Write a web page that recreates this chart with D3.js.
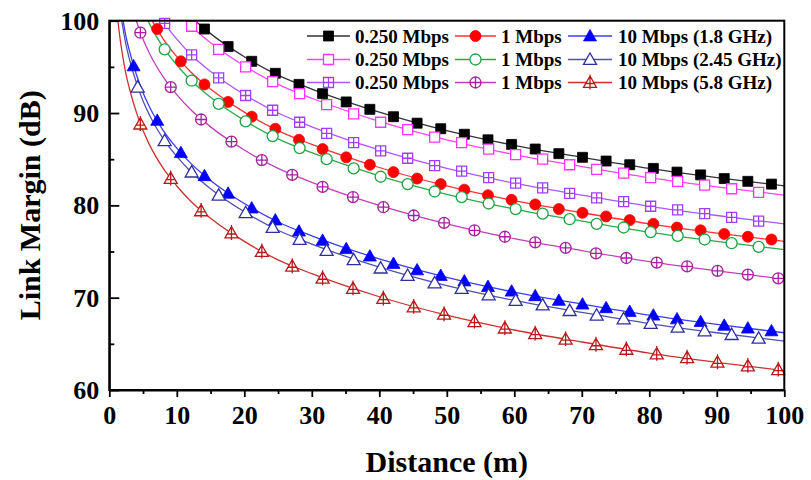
<!DOCTYPE html>
<html>
<head>
<meta charset="utf-8">
<script src="https://cdn.jsdelivr.net/npm/d3@7"></script>
<style>
  html, body { margin: 0; padding: 0; background: #fff; }
  svg { display: block; }
  text { font-family: "Liberation Serif", "Times New Roman", serif; font-weight: bold; fill: #000; }
</style>
</head>
<body>
<svg id="chart" width="811" height="480"></svg>
<script>
// ---------- Data ----------
const xTicks = [0, 10, 20, 30, 40, 50, 60, 70, 80, 90, 100];
const yTicks = [60, 70, 80, 90, 100];

// distances used for the smooth curves (m)
const lineDist = [1, 1.25, 1.5, 2, 2.5, 3, 4, 5, 6, 8, 10, 12, 15, 20, 25, 30, 40, 50, 60, 70, 80, 90, 100];

// marker distances (three marker spacings in the original plot)
const markDistA = [3.6, 7.1, 10.6, 14.1, 17.6, 21.1, 24.6, 28.1, 31.6, 35.1, 38.6, 42.1, 45.6, 49.1, 52.6, 56.1, 59.6, 63.1, 66.6, 70.1, 73.6, 77.1, 80.6, 84.1, 87.6, 91.1, 94.6, 98.1];
const markDistB = [4.2, 8.2, 12.2, 16.2, 20.2, 24.2, 28.2, 32.2, 36.2, 40.2, 44.2, 48.2, 52.2, 56.2, 60.2, 64.2, 68.2, 72.2, 76.2, 80.2, 84.2, 88.2, 92.2, 96.2];
const markDistC = [4.6, 9.1, 13.6, 18.1, 22.6, 27.1, 31.6, 36.1, 40.6, 45.1, 49.6, 54.1, 58.6, 63.1, 67.6, 72.1, 76.6, 81.1, 85.6, 90.1, 94.6, 99.1];

const seriesLabels = ["0.250 Mbps", "0.250 Mbps", "0.250 Mbps", "1 Mbps", "1 Mbps", "1 Mbps", "10 Mbps (1.8 GHz)", "10 Mbps (2.45 GHz)", "10 Mbps (5.8 GHz)"];

// curve values (dB) at lineDist
const lineBlack  = [122.1, 120.2, 118.6, 116.1, 114.1, 112.6, 110.1, 108.1, 106.5, 104.0, 102.1, 100.5, 98.6, 96.1, 94.1, 92.6, 90.1, 88.1, 86.5, 85.2, 84.0, 83.0, 82.1];
const linePink   = [121.1, 119.2, 117.6, 115.1, 113.1, 111.6, 109.1, 107.1, 105.5, 103.0, 101.1, 99.5, 97.6, 95.1, 93.1, 91.6, 89.1, 87.1, 85.5, 84.2, 83.0, 82.0, 81.1];
const lineViolet = [118.0, 116.1, 114.5, 112.0, 110.0, 108.5, 106.0, 104.0, 102.4, 99.9, 98.0, 96.4, 94.5, 92.0, 90.0, 88.5, 86.0, 84.0, 82.4, 81.1, 79.9, 78.9, 78.0];
const lineRed    = [116.1, 114.2, 112.6, 110.1, 108.1, 106.6, 104.1, 102.1, 100.5, 98.0, 96.1, 94.5, 92.6, 90.1, 88.1, 86.6, 84.1, 82.1, 80.5, 79.2, 78.0, 77.0, 76.1];
const lineGreen  = [115.2, 113.3, 111.7, 109.2, 107.2, 105.7, 103.2, 101.2, 99.6, 97.1, 95.2, 93.6, 91.7, 89.2, 87.2, 85.7, 83.2, 81.2, 79.6, 78.3, 77.1, 76.1, 75.2];
const linePurple = [112.0, 110.1, 108.5, 106.0, 104.0, 102.5, 100.0, 98.0, 96.4, 93.9, 92.0, 90.4, 88.5, 86.0, 84.0, 82.5, 80.0, 78.0, 76.4, 75.1, 73.9, 72.9, 72.0];
const lineBlue   = [106.2, 104.3, 102.7, 100.2, 98.2, 96.7, 94.2, 92.2, 90.6, 88.1, 86.2, 84.6, 82.7, 80.2, 78.2, 76.7, 74.2, 72.2, 70.6, 69.3, 68.1, 67.1, 66.2];
const lineNavy   = [105.3, 103.4, 101.8, 99.3, 97.3, 95.8, 93.3, 91.3, 89.7, 87.2, 85.3, 83.7, 81.8, 79.3, 77.3, 75.8, 73.3, 71.3, 69.7, 68.4, 67.2, 66.2, 65.3];
const lineWine   = [102.1, 100.2, 98.6, 96.1, 94.1, 92.6, 90.1, 88.1, 86.5, 84.0, 82.1, 80.5, 78.6, 76.1, 74.1, 72.6, 70.1, 68.1, 66.5, 65.2, 64.0, 63.0, 62.1];

// marker values (dB); markers above 100 dB are off the chart and omitted
const markBlack  = [null, null, null, 99.1, 97.2, 95.6, 94.3, 93.1, 92.1, 91.2, 90.4, 89.6, 88.9, 88.3, 87.7, 87.1, 86.6, 86.1, 85.6, 85.2, 84.8, 84.4, 84.0, 83.6, 83.3, 82.9, 82.6, 82.3];
const markRed    = [null, 99.1, 95.6, 93.1, 91.2, 89.6, 88.3, 87.1, 86.1, 85.2, 84.4, 83.6, 82.9, 82.3, 81.7, 81.1, 80.6, 80.1, 79.6, 79.2, 78.8, 78.4, 78.0, 77.6, 77.3, 76.9, 76.6, 76.3];
const markBlue   = [95.1, 89.2, 85.7, 83.2, 81.3, 79.7, 78.4, 77.2, 76.2, 75.3, 74.5, 73.7, 73.0, 72.4, 71.8, 71.2, 70.7, 70.2, 69.7, 69.3, 68.9, 68.5, 68.1, 67.7, 67.4, 67.0, 66.7, 66.4];
const markPink   = [null, null, 99.4, 96.9, 95.0, 93.4, 92.1, 90.9, 89.9, 89.0, 88.2, 87.4, 86.8, 86.1, 85.5, 85.0, 84.4, 83.9, 83.5, 83.0, 82.6, 82.2, 81.8, 81.4];
const markViolet = [null, 99.7, 96.3, 93.8, 91.9, 90.3, 89.0, 87.8, 86.8, 85.9, 85.1, 84.3, 83.7, 83.0, 82.4, 81.9, 81.3, 80.8, 80.4, 79.9, 79.5, 79.1, 78.7, 78.3];
const markGreen  = [null, 96.9, 93.5, 91.0, 89.1, 87.5, 86.2, 85.0, 84.0, 83.1, 82.3, 81.5, 80.9, 80.2, 79.6, 79.1, 78.5, 78.0, 77.6, 77.1, 76.7, 76.3, 75.9, 75.5];
const markNavy   = [92.8, 87.0, 83.6, 81.1, 79.2, 77.6, 76.3, 75.1, 74.1, 73.2, 72.4, 71.6, 71.0, 70.3, 69.7, 69.2, 68.6, 68.1, 67.7, 67.2, 66.8, 66.4, 66.0, 65.6];
const markPurple = [98.7, 92.8, 89.3, 86.9, 84.9, 83.3, 82.0, 80.9, 79.8, 78.9, 78.1, 77.3, 76.6, 76.0, 75.4, 74.8, 74.3, 73.8, 73.4, 72.9, 72.5, 72.1];
const markWine   = [88.8, 82.9, 79.4, 77.0, 75.0, 73.4, 72.1, 71.0, 69.9, 69.0, 68.2, 67.4, 66.7, 66.1, 65.5, 64.9, 64.4, 63.9, 63.5, 63.0, 62.6, 62.2];

// ---------- Series styling ----------
const series = [
  {label: seriesLabels[0], line: lineBlack,  md: markDistA, mv: markBlack,  shape: "square",   fill: true,  cross: false, mcol: "#000000", lcol: "#333333"},
  {label: seriesLabels[1], line: linePink,   md: markDistB, mv: markPink,   shape: "square",   fill: false, cross: false, mcol: "#ff33ff", lcol: "#ff44ff"},
  {label: seriesLabels[2], line: lineViolet, md: markDistB, mv: markViolet, shape: "square",   fill: false, cross: true,  mcol: "#a040ff", lcol: "#b055ff"},
  {label: seriesLabels[3], line: lineRed,    md: markDistA, mv: markRed,    shape: "circle",   fill: true,  cross: false, mcol: "#ff0000", lcol: "#ff3333"},
  {label: seriesLabels[4], line: lineGreen,  md: markDistB, mv: markGreen,  shape: "circle",   fill: false, cross: false, mcol: "#1aa33f", lcol: "#2aaa4a"},
  {label: seriesLabels[5], line: linePurple, md: markDistC, mv: markPurple, shape: "circle",   fill: false, cross: true,  mcol: "#a8209f", lcol: "#c040b8"},
  {label: seriesLabels[6], line: lineBlue,   md: markDistA, mv: markBlue,   shape: "triangle", fill: true,  cross: false, mcol: "#0000ff", lcol: "#3c3cff"},
  {label: seriesLabels[7], line: lineNavy,   md: markDistB, mv: markNavy,   shape: "triangle", fill: false, cross: false, mcol: "#2e2e9e", lcol: "#5050b4"},
  {label: seriesLabels[8], line: lineWine,   md: markDistC, mv: markWine,   shape: "triangle", fill: false, cross: true,  mcol: "#b81818", lcol: "#cc3030"}
];

// ---------- Layout ----------
const svg = d3.select("#chart");
const X0 = 109.3, X1 = 784.3, Y0 = 390, Y1 = 20.7;
const x = d3.scaleLinear().domain([0, 100]).range([X0, X1]);
const y = d3.scaleLinear().domain([60, 100]).range([Y0, Y1]);

svg.append("defs").append("clipPath").attr("id", "clip")
  .append("rect").attr("x", X0).attr("y", Y1).attr("width", X1 - X0).attr("height", Y0 - Y1);

// ---------- Marker paths ----------
function markerPath(shape, cross) {
  if (shape === "square") {
    const h = 5;
    let p = `M${-h},${-h}H${h}V${h}H${-h}Z`;
    if (cross) p += `M0,${-h}V${h}M${-h},0H${h}`;
    return p;
  }
  if (shape === "circle") {
    const r = 5.5;
    let p = `M${-r},0A${r},${r} 0 1,0 ${r},0A${r},${r} 0 1,0 ${-r},0Z`;
    if (cross) p += `M0,${-r}V${r}M${-r},0H${r}`;
    return p;
  }
  // triangle
  const s = 6.5;
  let p = `M0,${-s}L${s},${s * 0.75}L${-s},${s * 0.75}Z`;
  if (cross) p += `M0,${-s - 1.5}V${s * 0.75 + 2}M${-s * 0.75},${s * 0.15}H${s * 0.75}`;
  return p;
}

function drawMarker(g, s, px, py) {
  g.append("path")
    .attr("transform", `translate(${px},${py})`)
    .attr("d", markerPath(s.shape, s.cross))
    .attr("fill", s.fill ? s.mcol : "#fff")
    .attr("stroke", s.mcol)
    .attr("stroke-width", s.fill ? 0.8 : 1.3);
}

// ---------- Curves & markers ----------
const plot = svg.append("g").attr("clip-path", "url(#clip)");
const lineGen = d3.line()
  .x((d, i) => x(lineDist[i]))
  .y(d => y(d))
  .curve(d3.curveMonotoneX);

series.forEach(s => {
  plot.append("path")
    .attr("d", lineGen(s.line))
    .attr("fill", "none")
    .attr("stroke", s.lcol)
    .attr("stroke-width", 1.3);
});
const markG = svg.append("g");
series.forEach(s => {
  s.mv.forEach((v, i) => {
    if (v === null) return;
    drawMarker(markG, s, x(s.md[i]), y(v));
  });
});

// ---------- Axes ----------
const xMinor = d3.range(5, 100, 10);
const yMinor = [65, 75, 85, 95];

const xAxis = svg.append("g").attr("transform", `translate(0,${Y0})`)
  .call(d3.axisBottom(x).tickValues(xTicks).tickFormat(d3.format("d")).tickSizeInner(7).tickSizeOuter(0).tickPadding(6));
svg.append("g").attr("transform", `translate(0,${Y0})`)
  .call(d3.axisBottom(x).tickValues(xMinor).tickFormat("").tickSizeInner(4).tickSizeOuter(0))
  .call(g => g.select(".domain").remove());

const yAxis = svg.append("g").attr("transform", `translate(${X0},0)`)
  .call(d3.axisLeft(y).tickValues(yTicks).tickFormat(d3.format("d")).tickSizeInner(-10).tickSizeOuter(0).tickPadding(10));
svg.append("g").attr("transform", `translate(${X0},0)`)
  .call(d3.axisLeft(y).tickValues(yMinor).tickFormat("").tickSizeInner(-5).tickSizeOuter(0))
  .call(g => g.select(".domain").remove());

svg.selectAll(".tick line").attr("stroke", "#000").attr("stroke-width", 1.8);
svg.selectAll(".domain").attr("stroke", "#000").attr("stroke-width", 2);
xAxis.selectAll("text").attr("font-size", 26).attr("dy", "0.8em");
yAxis.selectAll("text").attr("font-size", 26).attr("dy", "0.33em");
svg.selectAll(".tick text").style("font-family", "'Liberation Serif', 'Times New Roman', serif").style("font-weight", "bold");

// frame
svg.append("rect").attr("x", X0).attr("y", Y1).attr("width", X1 - X0).attr("height", Y0 - Y1)
  .attr("fill", "none").attr("stroke", "#000").attr("stroke-width", 2);

// axis titles
svg.append("text").attr("x", (X0 + X1) / 2).attr("y", 472).attr("text-anchor", "middle")
  .attr("font-size", 30).text("Distance (m)");
svg.append("text").attr("transform", `translate(40,${(Y0 + Y1) / 2}) rotate(-90)`)
  .attr("text-anchor", "middle").attr("font-size", 30).text("Link Margin (dB)");

// ---------- Legend ----------
const legCols = [{x0: 307, x1: 350, tx: 355}, {x0: 455, x1: 496, tx: 501}, {x0: 568, x1: 612, tx: 618}];
const legRows = [36, 59.5, 82.5];
const leg = svg.append("g");
series.forEach((s, i) => {
  const c = legCols[Math.floor(i / 3)], r = legRows[i % 3];
  leg.append("line").attr("x1", c.x0).attr("x2", c.x1).attr("y1", r).attr("y2", r)
    .attr("stroke", s.lcol).attr("stroke-width", 1.3);
  drawMarker(leg, s, (c.x0 + c.x1) / 2, r);
  leg.append("text").attr("x", c.tx).attr("y", r).attr("dy", "0.35em")
    .attr("font-size", 19).text(s.label);
});
</script>
</body>
</html>
